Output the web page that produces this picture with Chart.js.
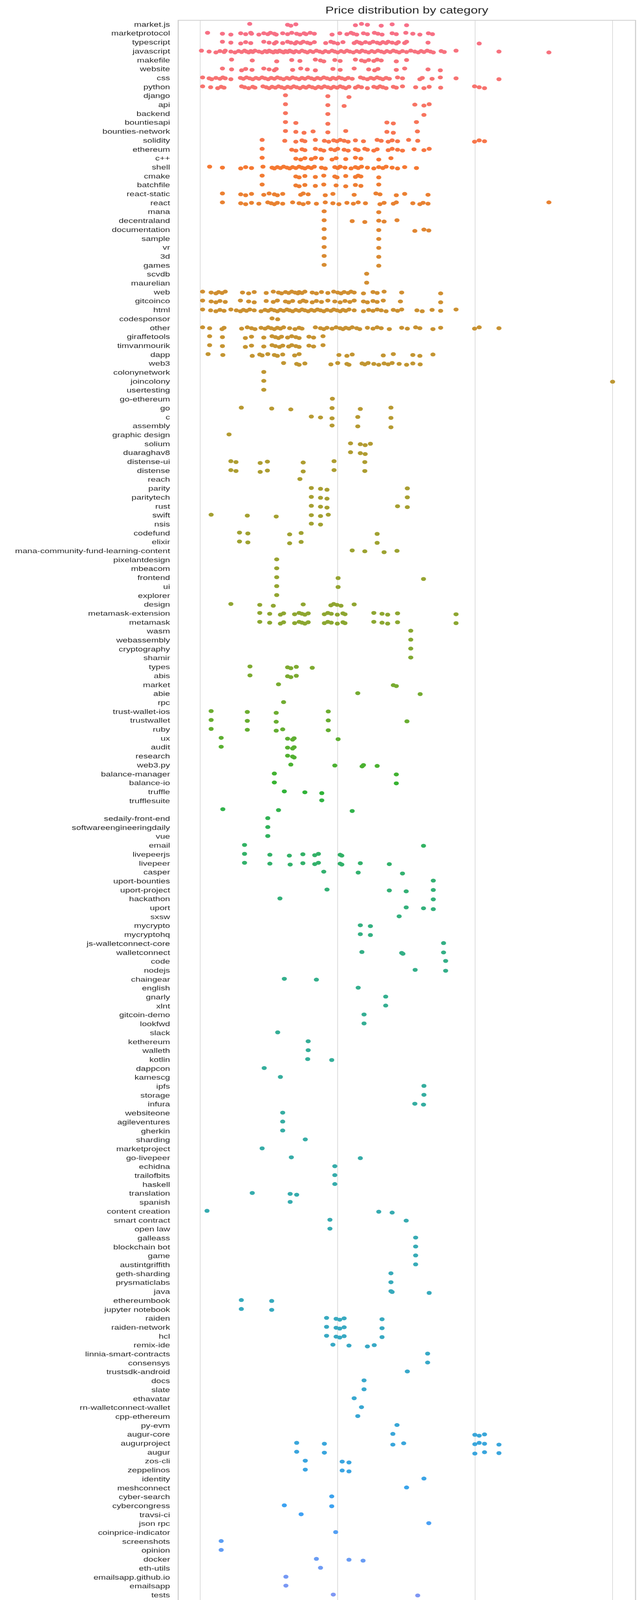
<!DOCTYPE html>
<html>
<head>
<meta charset="utf-8">
<title>Price distribution by category</title>
<script src="https://cdn.jsdelivr.net/npm/chart.js@4.4.1/dist/chart.umd.min.js"></script>
<style>
  html, body { margin: 0; padding: 0; background: #ffffff; overflow: hidden; }
  /* the reference picture is wider than it is tall, so the whole plot is drawn narrow and stretched */
  #wrap { width: 1257px; height: 5800px; transform: scaleX(1.3); transform-origin: 0 0; }
</style>
</head>
<body>
<div id="wrap"><canvas id="priceChart" width="1257" height="5800"></canvas></div>
<script>
const categories = [
  'market.js', 'marketprotocol', 'typescript', 'javascript', 'makefile', 'website', 'css', 'python',
  'django', 'api', 'backend', 'bountiesapi', 'bounties-network', 'solidity', 'ethereum', 'c++', 'shell',
  'cmake', 'batchfile', 'react-static', 'react', 'mana', 'decentraland', 'documentation', 'sample', 'vr',
  '3d', 'games', 'scvdb', 'maurelian', 'web', 'gitcoinco', 'html', 'codesponsor', 'other', 'giraffetools',
  'timvanmourik', 'dapp', 'web3', 'colonynetwork', 'joincolony', 'usertesting', 'go-ethereum', 'go', 'c',
  'assembly', 'graphic design', 'solium', 'duaraghav8', 'distense-ui', 'distense', 'reach', 'parity',
  'paritytech', 'rust', 'swift', 'nsis', 'codefund', 'elixir', 'mana-community-fund-learning-content',
  'pixelantdesign', 'mbeacom', 'frontend', 'ui', 'explorer', 'design', 'metamask-extension', 'metamask',
  'wasm', 'webassembly', 'cryptography', 'shamir', 'types', 'abis', 'market', 'abie', 'rpc',
  'trust-wallet-ios', 'trustwallet', 'ruby', 'ux', 'audit', 'research', 'web3.py', 'balance-manager',
  'balance-io', 'truffle', 'trufflesuite', '', 'sedaily-front-end', 'softwareengineeringdaily', 'vue',
  'email', 'livepeerjs', 'livepeer', 'casper', 'uport-bounties', 'uport-project', 'hackathon', 'uport',
  'sxsw', 'mycrypto', 'mycryptohq', 'js-walletconnect-core', 'walletconnect', 'code', 'nodejs',
  'chaingear', 'english', 'gnarly', 'xlnt', 'gitcoin-demo', 'lookfwd', 'slack', 'kethereum', 'walleth',
  'kotlin', 'dappcon', 'kamescg', 'ipfs', 'storage', 'infura', 'websiteone', 'agileventures', 'gherkin',
  'sharding', 'marketproject', 'go-livepeer', 'echidna', 'trailofbits', 'haskell', 'translation',
  'spanish', 'content creation', 'smart contract', 'open law', 'galleass', 'blockchain bot', 'game',
  'austintgriffith', 'geth-sharding', 'prysmaticlabs', 'java', 'ethereumbook', 'jupyter notebook',
  'raiden', 'raiden-network', 'hcl', 'remix-ide', 'linnia-smart-contracts', 'consensys',
  'trustsdk-android', 'docs', 'slate', 'ethavatar', 'rn-walletconnect-wallet', 'cpp-ethereum', 'py-evm',
  'augur-core', 'augurproject', 'augur', 'zos-cli', 'zeppelinos', 'identity', 'meshconnect',
  'cyber-search', 'cybercongress', 'travsi-ci', 'json rpc', 'coinprice-indicator', 'screenshots',
  'opinion', 'docker', 'eth-utils', 'emailsapp.github.io', 'emailsapp', 'tests', 'codecov',
  'solidity-coverage', 'delphi', 'armadillo', 'colonyhackathon', 'contest', 'skunkworks',
  'databrokerdao', 'markdown', 'video', 'tutorial', 'instructional', 'js-driver-orm', 'bigchaindb',
  'blockchain', 'decentralization', 'consensus', 'test', 'buidlbox', 'youvegoteth.github.io',
  'youvegoteth', 'cipher', 'toshi', 'status', 'py-walletconnect-bridge', 'uport-wordpress-plugin',
  'netlifycms', '0x', 'german', 'stdbountiesanaltyics', 'bounties.network', 'i18n',
  'internationalization', 'keysplit', 'databrokerdao-dapp', 'internet research', 'snapchat', 'vine',
  'korean', 'glossary', 'landing page', 'dockerfile', 'wallet', 'balance', 'lottery website', 'randao',
  'web design', 'js', 'command_line_standardbounties_funder', 'sc-forks', 'websocket', 'beyondthehype',
  'distributedconsensus', 'walletconnect-docs', 'augur-node', 'js-bigchaindb-driver', 'optimization',
  'web3j', 'jest', 'testing', 'giveth-dapp', 'giveth', 'smartcontract', 'solidity-repl', 'raineorshine',
  'hunter', 'ruslo', 'java-bigchaindb-driver', 'node', 'social impact'
];

// USD closing price of every bounty, one list per category (same order as above)
const closingPrices = [
  [229, 432, 456, 496, 1346, 1490, 1645, 2073, 2490, 3170], // market.js
  [113, 145, 167, 197, 214, 233, 236, 267, 290, 310, 324, 346, 357, 398, 432, 463, 503, 531, 569, 588, 631, 676, 910, 1035, 1167, 1251, 1300, 1375, 1540, 1645, 1850, 1962, 2102, 2490, 2670, 3130, 3520, 3960, 4570, 4890], // marketprotocol
  [145, 167, 197, 214, 233, 290, 317, 346, 357, 398, 432, 456, 489, 503, 538, 561, 601, 631, 676, 818, 892, 935, 1000, 1092, 1318, 1375, 1445, 1490, 1592, 1710, 1807, 1937, 2031, 2130, 2250, 2330, 2490, 2670, 2760, 3070, 3170, 4540, 10700], // typescript
  [102, 116, 130, 139, 149, 152, 167, 179, 190, 200, 210, 217, 225, 233, 241, 250, 267, 282, 296, 306, 317, 328, 340, 352, 364, 377, 390, 404, 417, 432, 447, 463, 479, 496, 524, 550, 577, 601, 631, 662, 700, 740, 777, 812, 860, 910, 953, 1000, 1057, 1114, 1167, 1226, 1300, 1375, 1445, 1505, 1592, 1680, 1770, 1857, 1962, 2073, 2176, 2280, 2410, 2540, 2670, 2800, 2960, 3170, 3400, 3640, 3850, 4040, 4240, 4480, 4730, 4960, 5660, 5960, 7260, 14900, 34400], // javascript
  [169, 239, 360, 463, 531, 688, 750, 792, 953, 1042, 1346, 1490, 1575, 1680, 1832, 1937, 2073, 2670, 3170], // makefile
  [145, 169, 200, 214, 238, 290, 317, 346, 357, 470, 538, 601, 688, 923, 1042, 1318, 1680, 1857, 1962, 2670, 3070, 4540, 5580], // website
  [104, 116, 121, 130, 139, 146, 152, 167, 196, 206, 217, 229, 241, 254, 267, 282, 296, 312, 328, 346, 364, 383, 404, 427, 447, 470, 496, 524, 550, 577, 610, 643, 676, 712, 750, 792, 836, 882, 923, 974, 1021, 1071, 1130, 1191, 1275, 1465, 1540, 1645, 1740, 1832, 1937, 2031, 2130, 2250, 2375, 2725, 2960, 3960, 4120, 4860, 5580, 7260, 14900], // css
  [104, 119, 134, 142, 149, 200, 210, 225, 241, 250, 286, 302, 317, 333, 352, 371, 390, 410, 432, 456, 479, 503, 531, 561, 588, 618, 653, 688, 724, 762, 800, 848, 892, 935, 989, 1042, 1092, 1144, 1208, 1346, 1410, 1490, 1645, 1832, 1937, 2031, 2130, 2250, 2540, 2670, 2960, 3690, 4240, 4630, 5610, 9900, 10700, 11700], // python
  [417, 848, 1208], // django
  [417, 848, 1114, 3640, 4240, 4630], // api
  [417, 848, 4240], // backend
  [417, 496, 848, 2280, 2540, 3740], // bountiesapi
  [417, 496, 569, 662, 848, 1144, 2280, 2540, 3800], // bounties-network
  [282, 412, 496, 550, 577, 688, 800, 860, 935, 989, 1042, 1114, 1191, 1346, 1540, 1937, 2073, 2330, 2490, 2725, 3280, 3820, 9900, 10700, 11700], // solidity
  [282, 463, 496, 550, 577, 688, 750, 792, 892, 953, 1000, 1114, 1191, 1346, 1410, 1575, 1645, 1832, 1937, 2330, 2490, 2725, 2960, 3590, 4240, 4630], // ethereum
  [282, 496, 538, 577, 643, 688, 762, 910, 974, 1144, 1346, 1475, 1990, 2440], // c++
  [117, 145, 197, 214, 236, 286, 333, 346, 364, 383, 404, 427, 447, 470, 496, 524, 550, 577, 610, 643, 676, 762, 812, 953, 1000, 1042, 1130, 1251, 1346, 1410, 1490, 1645, 1832, 1990, 2130, 2250, 2490, 2725, 3070, 3740], // shell
  [282, 496, 524, 577, 688, 792, 953, 989, 1144, 1346, 1410, 1475, 1990], // cmake
  [282, 496, 524, 577, 688, 792, 974, 1144, 1346, 1475, 1990], // batchfile
  [145, 197, 214, 236, 290, 317, 346, 364, 398, 538, 561, 610, 812, 923, 1318, 1897, 2031, 2670, 3070, 4540], // react-static
  [145, 197, 214, 236, 267, 310, 328, 346, 364, 398, 470, 524, 561, 610, 700, 812, 923, 1021, 1167, 1300, 1410, 1592, 2031, 2176, 2540, 2670, 3520, 3960, 4180, 4540, 34400], // react
  [797, 1990], // mana
  [797, 1275, 1575, 1990, 2176, 2700], // decentraland
  [797, 1990, 3640, 4240, 4600], // documentation
  [797, 1990], // sample
  [797, 1990], // vr
  [797, 1990], // 3d
  [797, 1990], // games
  [1625], // scvdb
  [1625], // maurelian
  [104, 120, 130, 136, 144, 152, 203, 225, 247, 302, 340, 371, 390, 417, 440, 463, 489, 513, 524, 550, 577, 653, 700, 762, 848, 935, 1000, 1057, 1114, 1191, 1250, 1318, 1540, 1807, 1937, 2176, 2920, 5610], // web
  [104, 120, 130, 139, 152, 196, 225, 247, 302, 340, 364, 417, 440, 470, 531, 561, 588, 653, 700, 762, 848, 953, 1042, 1130, 1226, 1318, 1540, 1645, 1807, 1937, 2146, 2860, 5610], // gitcoinco
  [104, 119, 130, 139, 149, 167, 183, 196, 206, 217, 229, 247, 277, 296, 312, 328, 346, 364, 383, 404, 427, 447, 470, 496, 524, 550, 577, 610, 643, 676, 712, 750, 792, 836, 892, 935, 989, 1042, 1092, 1144, 1208, 1318, 1540, 1680, 1807, 1937, 2073, 2250, 2540, 2725, 2920, 3770, 4120, 4860, 5610, 7260], // html
  [333, 366], // codesponsor
  [104, 117, 144, 149, 200, 220, 236, 250, 277, 296, 312, 328, 346, 364, 383, 404, 447, 489, 524, 550, 688, 750, 792, 836, 910, 974, 1042, 1092, 1144, 1208, 1275, 1375, 1445, 1645, 1807, 1937, 2073, 2375, 2920, 3210, 3690, 3960, 4930, 5610, 9900, 10700, 14900], // other
  [117, 145, 213, 236, 290, 333, 352, 371, 390, 432, 463, 496, 524, 618, 668, 782], // giraffetools
  [117, 145, 213, 236, 290, 333, 352, 377, 398, 440, 463, 496, 524, 618, 668, 782], // timvanmourik
  [114, 146, 239, 271, 282, 310, 346, 364, 398, 486, 524, 1021, 1167, 1275, 2146, 2540, 3520, 3960, 4930], // dapp
  [404, 503, 524, 577, 892, 1000, 1167, 1208, 1505, 1575, 1665, 1832, 1990, 2176, 2330, 2490, 2800, 3170, 3520, 3980], // web3
  [290], // colonynetwork
  [290, 100000], // joincolony
  [290], // usertesting
  [915], // go-ethereum
  [199, 331, 456, 910, 1461, 2440], // go
  [643, 750, 910, 1400, 2440], // c
  [910, 1400, 2440], // assembly
  [162], // graphic design
  [1240, 1461, 1585, 1730], // solium
  [1240, 1461, 1585], // duaraghav8
  [167, 182, 273, 308, 561, 941, 1575], // distense-ui
  [167, 182, 273, 308, 561, 941, 1575], // distense
  [531], // reach
  [643, 750, 836, 3210], // parity
  [643, 750, 836, 3210], // paritytech
  [643, 750, 836, 2725, 3210], // rust
  [120, 220, 357, 643, 750, 854], // swift
  [643, 750], // nsis
  [193, 222, 447, 542, 1937], // codefund
  [193, 222, 447, 542, 1937], // elixir
  [1275, 1575, 2176, 2700], // mana-community-fund-learning-content
  [360], // pixelantdesign
  [360], // mbeacom
  [360, 1007, 4210], // frontend
  [360, 1007], // ui
  [360], // explorer
  [167, 271, 340, 561, 892, 935, 989, 1057, 1318], // design
  [271, 320, 383, 404, 486, 524, 550, 577, 610, 800, 848, 898, 994, 1092, 1130, 1832, 2102, 2310, 2725, 7260], // metamask-extension
  [271, 320, 383, 404, 486, 524, 550, 577, 610, 800, 848, 898, 994, 1092, 1130, 1832, 2102, 2310, 2725, 7260], // metamask
  [3400], // wasm
  [3400], // webassembly
  [3400], // cryptography
  [3400], // shamir
  [230, 432, 456, 500, 653], // types
  [230, 432, 456, 500], // abis
  [371, 2540, 2670], // market
  [1400, 3980], // abie
  [404], // rpc
  [120, 220, 357, 854], // trust-wallet-ios
  [120, 220, 357, 854, 3190], // trustwallet
  [120, 220, 357, 398, 854], // ruby
  [142, 432, 470, 482, 1007], // ux
  [142, 432, 470, 482], // audit
  [432, 470, 482], // research
  [456, 953, 1505, 1540, 1937], // web3.py
  [346, 2670], // balance-manager
  [346, 2670], // balance-io
  [409, 577, 766], // truffle
  [766], // trufflesuite
  [146, 371, 1275], // (no name)
  [310], // sedaily-front-end
  [310], // softwareengineeringdaily
  [310], // vue
  [210, 4210], // email
  [210, 321, 445, 558, 681, 724, 1042, 1071], // livepeerjs
  [210, 321, 451, 558, 681, 724, 1042, 1071, 1461, 2375], // livepeer
  [792, 1410, 2960], // casper
  [4960], // uport-bounties
  [836, 2375, 3150, 4960], // uport-project
  [380, 4960], // hackathon
  [3150, 4210, 4960], // uport
  [2800], // sxsw
  [1461, 1730], // mycrypto
  [1461, 1730], // mycryptohq
  [5890], // js-walletconnect-core
  [1500, 2920, 2980, 5890], // walletconnect
  [6100], // code
  [3660, 6100], // nodejs
  [409, 700], // chaingear
  [1410], // english
  [2235], // gnarly
  [2235], // xlnt
  [1555], // gitcoin-demo
  [1555], // lookfwd
  [366], // slack
  [610], // kethereum
  [610], // walleth
  [605, 905], // kotlin
  [292], // dappcon
  [383], // kamescg
  [4240], // ipfs
  [4240], // storage
  [3640, 4210], // infura
  [398], // websiteone
  [398], // agileventures
  [398], // gherkin
  [581], // sharding
  [282], // marketproject
  [460, 1461], // go-livepeer
  [953], // echidna
  [953], // trailofbits
  [953], // haskell
  [239, 451, 503], // translation
  [451], // spanish
  [112, 1990, 2490], // content creation
  [878, 3150], // smart contract
  [878], // open law
  [3690], // galleass
  [3690], // blockchain bot
  [3690], // game
  [3690], // austintgriffith
  [2440], // geth-sharding
  [2440], // prysmaticlabs
  [2440, 2490, 4630], // java
  [199, 331], // ethereumbook
  [199, 331], // jupyter notebook
  [830, 974, 1035, 1114, 2102], // raiden
  [830, 974, 1035, 1114, 2102], // raiden-network
  [830, 974, 1035, 1114, 2102], // hcl
  [923, 1208, 1645, 1845], // remix-ide
  [4510], // linnia-smart-contracts
  [4510], // consensys
  [3210], // trustsdk-android
  [1555], // docs
  [1555], // slate
  [1318], // ethavatar
  [1490], // rn-walletconnect-wallet
  [1400], // cpp-ethereum
  [2700], // py-evm
  [2520, 9950, 10700, 11700], // augur-core
  [503, 800, 2520, 3020, 9950, 10700, 11700, 14900], // augurproject
  [503, 800, 9950, 11700, 14900], // augur
  [581, 1078, 1208], // zos-cli
  [581, 1078, 1208], // zeppelinos
  [4240], // identity
  [3170], // meshconnect
  [905], // cyber-search
  [409, 905], // cybercongress
  [542], // travsi-ci
  [4600], // json rpc
  [967], // coinprice-indicator
  [142], // screenshots
  [142], // opinion
  [700, 1208, 1530], // docker
  [750], // eth-utils
  [420], // emailsapp.github.io
  [420], // emailsapp
  [929, 3820], // tests
  [929], // codecov
  [905, 3860], // solidity-coverage
  [3820], // delphi
  [447], // armadillo
  [100000], // colonyhackathon
  [100000], // contest
  [1665], // skunkworks
  [929, 4860, 5580], // databrokerdao
  [4180], // markdown
  [2010], // video
  [2010], // tutorial
  [2010], // instructional
  [1114], // js-driver-orm
  [1130, 2500, 4630], // bigchaindb
  [1130, 2500, 4630], // blockchain
  [1130, 2500, 4630], // decentralization
  [1114], // consensus
  [1114, 1144], // test
  [2375], // buidlbox
  [4020], // youvegoteth.github.io
  [4020], // youvegoteth
  [4020], // cipher
  [4020], // toshi
  [4020], // status
  [1530, 2920], // py-walletconnect-bridge
  [836], // uport-wordpress-plugin
  [3090], // netlifycms
  [1520], // 0x
  [503], // german
  [569, 1144], // stdbountiesanaltyics
  [662], // bounties.network
  [486], // i18n
  [486], // internationalization
  [486], // keysplit
  [929, 4860], // databrokerdao-dapp
  [288], // internet research
  [288], // snapchat
  [288], // vine
  [239], // korean
  [239], // glossary
  [1175], // landing page
  [294, 1820], // dockerfile
  [34400], // wallet
  [34400], // balance
  [4020], // lottery website
  [4020], // randao
  [4020], // web design
  [4020], // js
  [1240], // command_line_standardbounties_funder
  [3900], // sc-forks
  [3660], // websocket
  [1400], // beyondthehype
  [1400], // distributedconsensus
  [1500], // walletconnect-docs
  [3020], // augur-node
  [1152, 2500], // js-bigchaindb-driver
  [2500], // optimization
  [2500], // web3j
  [1592], // jest
  [1592], // testing
  [1645, 3000], // giveth-dapp
  [1645, 3000], // giveth
  [2390], // smartcontract
  [395], // solidity-repl
  [395], // raineorshine
  [1490], // hunter
  [1490], // ruslo
  [4630], // java-bigchaindb-driver
  [1832], // node
  [101] // social impact
];

const tickValues = [100, 1000, 10000, 100000];
const tickLabels = ['$100', '$1000', '$10000', ''];

// seaborn-style husl palette, one hue per category
const M = [[3.2406, -1.5372, -0.4986], [-0.9689, 1.8758, 0.0415], [0.0557, -0.2040, 1.0570]];

function maxChroma(L, H) {
  const hrad = H / 180 * Math.PI;
  const sinH = Math.sin(hrad), cosH = Math.cos(hrad);
  const sub1 = Math.pow(L + 16, 3) / 1560896;
  const sub2 = sub1 > 0.008856 ? sub1 : L / 903.3;
  let result = Infinity;
  for (const [m1, m2, m3] of M) {
    const top = (0.99915 * m1 + 1.05122 * m2 + 1.14460 * m3) * sub2;
    const rbottom = 0.86330 * m3 - 0.17266 * m2;
    const lbottom = 0.12949 * m3 - 0.38848 * m1;
    const bottom = (rbottom * sinH + lbottom * cosH) * sub2;
    for (const t of [0, 1]) {
      const C = L * (top - 1.05122 * t) / (bottom + 0.17266 * sinH * t);
      if (C > 0 && C < result) result = C;
    }
  }
  return result;
}

function huslToRgb(H, S, L) {
  const C = maxChroma(L, H) / 100 * S;
  const hrad = H / 180 * Math.PI;
  const U = Math.cos(hrad) * C, V = Math.sin(hrad) * C;
  const t = (L + 16) / 116;
  const Y = Math.pow(t, 3) > 0.008856 ? Math.pow(t, 3) : (116 * t - 16) / 903.3;
  const varU = U / (13 * L) + 0.19784;
  const varV = V / (13 * L) + 0.46834;
  const X = -(9 * Y * varU) / ((varU - 4) * varV - varU * varV);
  const Z = (9 * Y - 15 * varV * Y - varV * X) / (3 * varV);
  const rgb = M.map(row => {
    const c = row[0] * X + row[1] * Y + row[2] * Z;
    const v = c <= 0.0031308 ? 12.92 * c : 1.055 * Math.pow(c, 1 / 2.4) - 0.055;
    return Math.round(Math.min(1, Math.max(0, v)) * 255);
  });
  return `rgb(${rgb[0]}, ${rgb[1]}, ${rgb[2]})`;
}

const palette = categories.map((_, i) => huslToRgb(((i / categories.length) + 0.01) % 1 * 359, 89.1, 64.35));

// small fixed spread inside a row, like a strip plot
const jitter = j => ((j * 7) % 5 - 2) * 0.05;

const textColor = '#262626';
const lineColor = '#cccccc';

Chart.defaults.font.family = '"Liberation Sans", Arial, Helvetica, sans-serif';
Chart.defaults.color = textColor;

const framePlugin = {
  id: 'frame',
  beforeDatasetsDraw(chart) {
    const { ctx, chartArea: a } = chart;
    ctx.save();
    ctx.strokeStyle = lineColor;
    ctx.lineWidth = 2;
    ctx.strokeRect(a.left, a.top, a.right - a.left, a.bottom - a.top);
    ctx.restore();
  }
};

new Chart(document.getElementById('priceChart'), {
  type: 'scatter',
  data: {
    datasets: categories.map((name, i) => ({
      label: name,
      data: closingPrices[i].map((p, j) => ({ x: p, y: i + jitter(j) })),
      backgroundColor: palette[i],
      borderWidth: 0,
      pointRadius: 5
    }))
  },
  options: {
    responsive: false,
    animation: false,
    devicePixelRatio: 1.3,
    events: [],
    layout: { padding: { left: 0, right: 1.6, top: 0, bottom: 16.6 } },
    plugins: {
      legend: { display: false },
      tooltip: { enabled: false },
      title: {
        display: true,
        fullSize: false,
        text: 'Price distribution by category',
        color: textColor,
        font: { size: 25, weight: 'normal' },
        padding: { top: 13, bottom: 9 }
      }
    },
    scales: {
      x: {
        type: 'logarithmic',
        min: 69.1,
        max: 146900,
        afterBuildTicks: scale => { scale.ticks = tickValues.map(v => ({ value: v })); },
        ticks: {
          callback: (v, i) => tickLabels[i],
          autoSkip: false,
          maxRotation: 0,
          padding: 19,
          color: textColor,
          font: { size: 18 }
        },
        grid: { color: lineColor, lineWidth: 1, drawTicks: false },
        border: { display: false },
        title: {
          display: true,
          text: 'USD Closing Price',
          color: textColor,
          font: { size: 19 },
          padding: { top: 6, bottom: 0 }
        }
      },
      y: {
        type: 'linear',
        reverse: true,
        min: -0.5,
        max: categories.length - 0.5,
        afterBuildTicks: scale => { scale.ticks = categories.map((_, i) => ({ value: i })); },
        afterFit: scale => { scale.width = 351; },
        ticks: {
          callback: v => categories[v],
          autoSkip: false,
          padding: 16,
          color: textColor,
          font: { size: 17.5 }
        },
        grid: { display: false, drawTicks: false },
        border: { display: false }
      }
    }
  },
  plugins: [framePlugin]
});
</script>
</body>
</html>
